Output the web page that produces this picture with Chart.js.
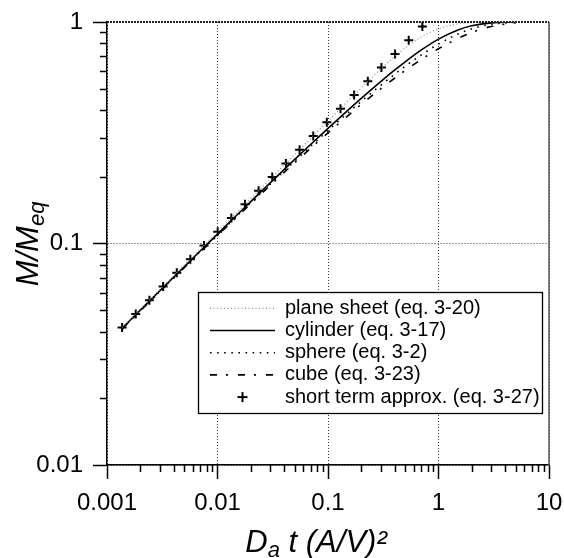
<!DOCTYPE html>
<html>
<head>
<meta charset="utf-8">
<script src="https://cdn.jsdelivr.net/npm/chart.js@4/dist/chart.umd.min.js"></script>
<style>
  html, body { margin: 0; padding: 0; background: #fff; }
  #wrap { position: relative; width: 564px; height: 558px; }
</style>
</head>
<body>
<div id="wrap"><canvas id="c" width="564" height="558"></canvas></div>
<script>
// ---------------- data ----------------
const xCurve      = [0.00137, 0.002, 0.003, 0.005, 0.007, 0.01, 0.015, 0.02, 0.03, 0.05, 0.07, 0.1, 0.15, 0.2, 0.3, 0.4, 0.5, 0.7, 1, 1.5, 2, 3, 5];
const planeSheet  = [0.0418, 0.0505, 0.0618, 0.0798, 0.0944, 0.1128, 0.1382, 0.1596, 0.1954, 0.2523, 0.2986, 0.3568, 0.4369, 0.5041, 0.6132, 0.6979, 0.7640, 0.8559, 0.9313, 0.9800, 0.9942, 0.9995, 1.0000];
const cylinder    = [0.0414, 0.0500, 0.0611, 0.0785, 0.0927, 0.1103, 0.1345, 0.1545, 0.1878, 0.2396, 0.2806, 0.3311, 0.3982, 0.4525, 0.5382, 0.6058, 0.6614, 0.7479, 0.8370, 0.9209, 0.9616, 0.9910, 0.9995];
const sphere      = [0.0413, 0.0498, 0.0608, 0.0781, 0.0921, 0.1095, 0.1332, 0.1529, 0.1854, 0.2356, 0.2752, 0.3235, 0.3870, 0.4380, 0.5180, 0.5803, 0.6312, 0.7108, 0.7951, 0.8824, 0.9322, 0.9774, 0.9975];
const cube        = [0.0412, 0.0496, 0.0605, 0.0777, 0.0915, 0.1087, 0.1319, 0.1512, 0.1830, 0.2317, 0.2698, 0.3161, 0.3763, 0.4245, 0.4994, 0.5573, 0.6045, 0.6781, 0.7572, 0.8430, 0.8968, 0.9548, 0.9913];
const xShort      = [0.00137, 0.00182, 0.00242, 0.00322, 0.00428, 0.00568, 0.00755, 0.01004, 0.01334, 0.01772, 0.02355, 0.0313, 0.0416, 0.0553, 0.0735, 0.0976, 0.1297, 0.1724, 0.2291, 0.3044, 0.4046, 0.5376, 0.7145];
const shortTerm   = [0.0418, 0.0481, 0.0555, 0.0640, 0.0738, 0.0850, 0.0980, 0.1130, 0.1303, 0.1502, 0.1731, 0.1996, 0.2300, 0.2652, 0.3057, 0.3524, 0.4063, 0.4684, 0.5399, 0.6224, 0.7175, 0.8271, 0.9535];

const seriesLabels = ['plane sheet (eq. 3-20)', 'cylinder (eq. 3-17)', 'sphere (eq. 3-2)', 'cube (eq. 3-23)', 'short term approx. (eq. 3-27)'];

const xTickValues = [0.001, 0.01, 0.1, 1, 10];
const xTickLabels = ['0.001', '0.01', '0.1', '1', '10'];
const yTickValues = [0.01, 0.1, 1];
const yTickLabels = ['0.01', '0.1', '1'];
const xMinorTicks = [0.002,0.003,0.004,0.005,0.006,0.007,0.008,0.009, 0.02,0.03,0.04,0.05,0.06,0.07,0.08,0.09, 0.2,0.3,0.4,0.5,0.6,0.7,0.8,0.9, 2,3,4,5,6,7,8,9];
const yMinorTicks = [0.02,0.03,0.04,0.05,0.06,0.07,0.08,0.09, 0.2,0.3,0.4,0.5,0.6,0.7,0.8,0.9];

// ---------------- helpers ----------------
const FONT = '"Liberation Sans", Arial, Helvetica, sans-serif';
const pts = (xs, ys) => xs.map((x, i) => ({ x: x, y: ys[i] }));

// small plus image used as the legend symbol of the marker series
const plusImg = document.createElement('canvas');
plusImg.width = 12; plusImg.height = 12;
(function () {
  const c = plusImg.getContext('2d');
  c.strokeStyle = '#000'; c.lineWidth = 2;
  c.beginPath(); c.moveTo(1, 6); c.lineTo(11, 6); c.moveTo(6, 1); c.lineTo(6, 11); c.stroke();
})();

function drawSegs(ctx, segs, cx, base) {
  let total = 0;
  segs.forEach(s => { ctx.font = 'italic ' + s.size + 'px ' + FONT; s.w = ctx.measureText(s.t).width + (s.gap || 0); total += s.w; });
  let x = cx - total / 2;
  ctx.textBaseline = 'alphabetic';
  ctx.textAlign = 'left';
  segs.forEach(s => { ctx.font = 'italic ' + s.size + 'px ' + FONT; ctx.fillText(s.t, x, base + s.dy); x += s.w; });
}

const LEG = { boxL: 198.5, boxT: 292.5, boxR: 542.5, boxB: 413.5, itemX: 210, firstCenter: 308.3 };

const decorPlugin = {
  id: 'decor',
  afterLayout(chart) {
    const lg = chart.legend;
    if (!lg) return;
    const pad = chart.options.plugins.legend.labels.padding;
    const fs = chart.options.plugins.legend.labels.font.size;
    lg.left = LEG.itemX - pad;
    lg.top = LEG.firstCenter - fs / 2 - pad;
    lg.right = LEG.boxR;
    lg.bottom = 520;
    lg.width = lg.right - lg.left;
    lg.height = lg.bottom - lg.top;
    if (!lg._boxed) {
      lg._boxed = true;
      const orig = lg.draw;
      lg.draw = function (area) {
        const ctx = this.ctx;
        ctx.save();
        ctx.fillStyle = '#fff';
        ctx.fillRect(LEG.boxL, LEG.boxT, LEG.boxR - LEG.boxL, LEG.boxB - LEG.boxT);
        ctx.strokeStyle = '#000';
        ctx.lineWidth = 1.3;
        ctx.strokeRect(LEG.boxL, LEG.boxT, LEG.boxR - LEG.boxL, LEG.boxB - LEG.boxT);
        ctx.restore();
        orig.call(this, area);
      };
    }
  },
  afterDraw(chart) {
    const ctx = chart.ctx, ca = chart.chartArea, xs = chart.scales.x, ys = chart.scales.y;
    ctx.save();
    // minor ticks
    ctx.strokeStyle = '#000';
    ctx.lineWidth = 1.5;
    ctx.beginPath();
    xMinorTicks.forEach(v => { const p = Math.round(xs.getPixelForValue(v)) + 0.5; ctx.moveTo(p, ca.bottom); ctx.lineTo(p, ca.bottom + 7); });
    yMinorTicks.forEach(v => { const p = Math.round(ys.getPixelForValue(v)) + 0.5; ctx.moveTo(ca.left, p); ctx.lineTo(ca.left - 7, p); });
    ctx.stroke();
    // right frame
    ctx.strokeStyle = '#555';
    ctx.lineWidth = 1.5;
    ctx.beginPath(); ctx.moveTo(ca.right, ca.top); ctx.lineTo(ca.right, ca.bottom); ctx.stroke();
    // top frame (dotted, dark)
    ctx.strokeStyle = '#222';
    ctx.lineWidth = 2;
    ctx.setLineDash([2, 1]);
    ctx.beginPath(); ctx.moveTo(ca.left, ca.top); ctx.lineTo(ca.right, ca.top); ctx.stroke();
    ctx.setLineDash([]);
    // axis titles
    ctx.fillStyle = '#000';
    drawSegs(ctx, [{ t: 'D', size: 31, dy: 0 }, { t: 'a', size: 22, dy: 5 }, { t: ' t (A/V)²', size: 31, dy: 0 }], 316, 552);
    ctx.translate(38, 244);
    ctx.rotate(-Math.PI / 2);
    drawSegs(ctx, [{ t: 'M/M', size: 31, dy: 0 }, { t: 'eq', size: 22, dy: 6 }], 0, 0);
    ctx.restore();
  }
};

const gridCommon = { color: '#333', lineWidth: 1, tickLength: 14, tickColor: '#000', tickWidth: 1.5, drawOnChartArea: true };

new Chart(document.getElementById('c'), {
  type: 'scatter',
  data: {
    datasets: [
      { label: seriesLabels[0], data: pts(xCurve, planeSheet), showLine: true, borderColor: '#8a8a8a', borderWidth: 1.2, borderDash: [1, 2.5], pointRadius: 0, cubicInterpolationMode: 'monotone', legendPoint: 'line' },
      { label: seriesLabels[1], data: pts(xCurve, cylinder), showLine: true, borderColor: '#000', borderWidth: 1.6, borderDash: [], pointRadius: 0, cubicInterpolationMode: 'monotone', legendPoint: 'line' },
      { label: seriesLabels[2], data: pts(xCurve, sphere), showLine: true, borderColor: '#000', borderWidth: 1.6, borderDash: [1.6, 5.5], pointRadius: 0, cubicInterpolationMode: 'monotone', legendPoint: 'line' },
      { label: seriesLabels[3], data: pts(xCurve, cube), showLine: true, borderColor: '#000', borderWidth: 1.6, borderDash: [7, 9, 2, 10], pointRadius: 0, cubicInterpolationMode: 'monotone', legendPoint: 'line' },
      { label: seriesLabels[4], data: pts(xShort, shortTerm), showLine: false, borderColor: '#000', backgroundColor: '#000', pointStyle: 'cross', pointRadius: 4.5, pointBorderWidth: 2, pointBorderColor: '#000', legendPoint: plusImg }
    ]
  },
  options: {
    responsive: false,
    animation: false,
    devicePixelRatio: 1,
    layout: { padding: { left: 0, right: 15, top: 22, bottom: 0 } },
    scales: {
      x: {
        type: 'logarithmic', position: 'bottom', min: 0.001, max: 10,
        afterBuildTicks: s => { s.ticks = xTickValues.map(v => ({ value: v })); },
        afterFit: s => { s.height = 93; s.paddingLeft = 0; s.paddingRight = 0; },
        ticks: { autoSkip: false, maxRotation: 0, padding: 10, color: '#000', font: { family: FONT, size: 24 }, callback: (v, i) => xTickLabels[i] },
        grid: gridCommon,
        border: { display: true, color: '#000', width: 1.5, dash: [1, 2] },
        title: { display: false }
      },
      y: {
        type: 'logarithmic', position: 'left', min: 0.01, max: 1,
        afterBuildTicks: s => { s.ticks = yTickValues.map(v => ({ value: v })); },
        afterFit: s => { s.width = 107; s.paddingTop = 0; s.paddingBottom = 0; },
        ticks: { autoSkip: false, padding: 10, color: '#000', font: { family: FONT, size: 24 }, callback: (v, i) => yTickLabels[i] },
        grid: gridCommon,
        border: { display: true, color: '#000', width: 1.5, dash: [1, 2] },
        title: { display: false }
      }
    },
    plugins: {
      tooltip: { enabled: false },
      legend: {
        position: 'chartArea',
        align: 'start',
        labels: {
          usePointStyle: true,
          pointStyleWidth: 65,
          boxHeight: 7,
          padding: 2.2,
          color: '#000',
          font: { family: FONT, size: 20 },
          generateLabels: chart => chart.data.datasets.map((ds, i) => ({
            text: ds.label,
            fillStyle: 'rgba(0,0,0,0)',
            strokeStyle: ds.borderColor,
            lineWidth: i === 4 ? 2 : ds.borderWidth,
            lineDash: ds.borderDash || [],
            pointStyle: ds.legendPoint,
            fontColor: '#000',
            hidden: false,
            datasetIndex: i
          }))
        }
      }
    }
  },
  plugins: [decorPlugin]
});
</script>
</body>
</html>
